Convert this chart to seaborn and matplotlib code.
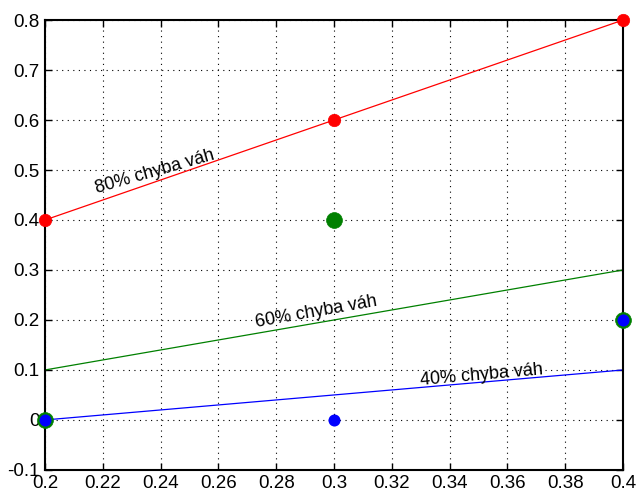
import matplotlib
matplotlib.use("Agg")
import matplotlib.pyplot as plt
import matplotlib.ticker as mticker
import seaborn as sns

# line endpoints for each weight error level
line_x = [0.2, 0.4]
red_line = [0.4, 0.8]
green_line = [0.1, 0.3]
blue_line = [0.0, 0.1]

# measured points
pts_x = [0.2, 0.3, 0.4]
red_pts = [0.4, 0.6, 0.8]
green_pts = [0.0, 0.4, 0.2]
blue_pts = [0.0, 0.0, 0.2]

labels = ["80% chyba váh", "60% chyba váh", "40% chyba váh"]

sns.set_style("ticks")
plt.rcParams['font.family'] = ['Liberation Sans', 'DejaVu Sans']
plt.rcParams['text.color'] = 'black'

fig = plt.figure(figsize=(6.38, 5.01), dpi=100)
ax = fig.add_axes([0.0705, 0.062, 0.906, 0.898])

sns.lineplot(x=line_x, y=red_line, color='red', lw=0.9, ax=ax)
sns.lineplot(x=line_x, y=green_line, color='green', lw=0.9, ax=ax)
sns.lineplot(x=line_x, y=blue_line, color='blue', lw=0.9, ax=ax)

sns.scatterplot(x=pts_x, y=red_pts, color='red', s=80, edgecolor='red', linewidth=0.5, zorder=5, clip_on=False, ax=ax)
sns.scatterplot(x=pts_x, y=green_pts, color='green', s=130, edgecolor='green', linewidth=0.5, zorder=5, clip_on=False, ax=ax)
sns.scatterplot(x=pts_x, y=blue_pts, color='blue', s=75, edgecolor='blue', linewidth=0, zorder=6, clip_on=False, ax=ax)

ax.text(0.238, 0.496, labels[0], rotation=16, ha='center', va='center', fontsize=13, color='black')
ax.text(0.294, 0.216, labels[1], rotation=10, ha='center', va='center', fontsize=13, color='black')
ax.text(0.351, 0.09, labels[2], rotation=5, ha='center', va='center', fontsize=13, color='black')

ax.set_xlim(0.2, 0.4)
ax.set_ylim(-0.1, 0.8)
ax.set_xticks([0.2, 0.22, 0.24, 0.26, 0.28, 0.3, 0.32, 0.34, 0.36, 0.38, 0.4])
ax.set_yticks([-0.1, 0, 0.1, 0.2, 0.3, 0.4, 0.5, 0.6, 0.7, 0.8])
ax.xaxis.set_major_formatter(mticker.FormatStrFormatter('%g'))
ax.yaxis.set_major_formatter(mticker.FormatStrFormatter('%g'))
ax.tick_params(direction='in', length=5, width=1, labelsize=13.5, top=True, right=True,
               colors='black', pad=4)
ax.grid(True, linestyle=(0, (1, 4)), color='black', lw=0.8)
for sp in ax.spines.values():
    sp.set_visible(True)
    sp.set_linewidth(1.5)
    sp.set_color('black')

fig.savefig('out.png', dpi=100)
